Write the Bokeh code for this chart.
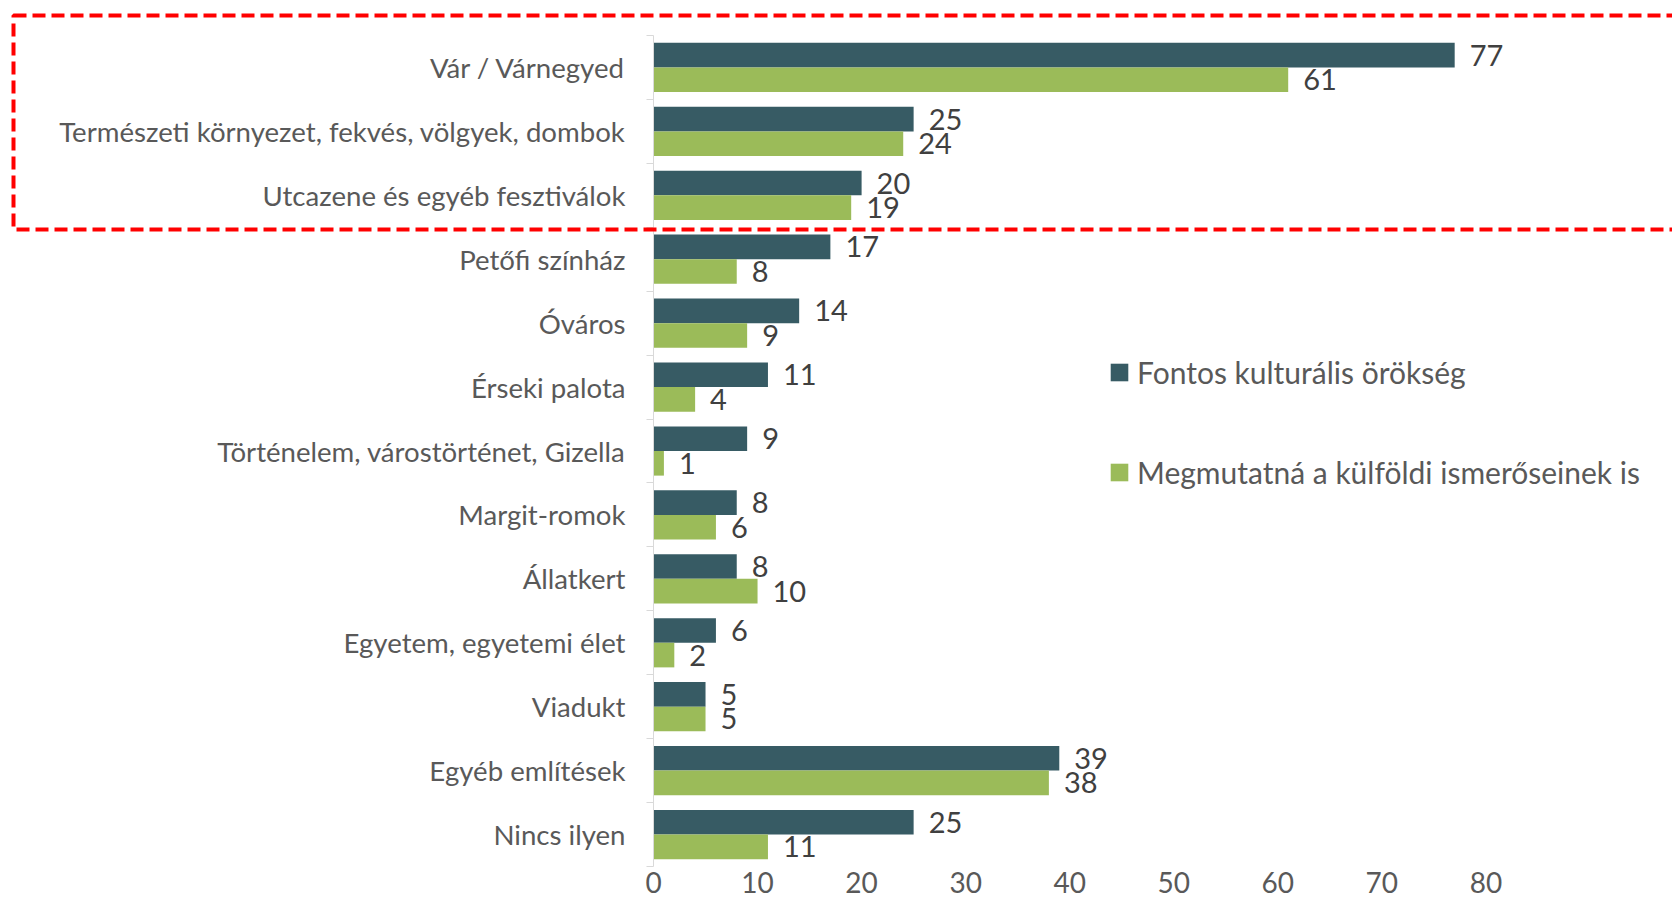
from bokeh.plotting import figure
from bokeh.models import (Range1d, FixedTicker, ColumnDataSource, BoxAnnotation, Legend,
                          LegendItem, LinearAxis)
from bokeh.transform import dodge
from bokeh.core.properties import value
from bokeh.embed import file_html
from bokeh.resources import INLINE

categories = [
    "Vár / Várnegyed",
    "Természeti környezet, fekvés, völgyek, dombok",
    "Utcazene és egyéb fesztiválok",
    "Petőfi színház",
    "Óváros",
    "Érseki palota",
    "Történelem, várostörténet, Gizella",
    "Margit-romok",
    "Állatkert",
    "Egyetem, egyetemi élet",
    "Viadukt",
    "Egyéb említések",
    "Nincs ilyen",
]
fontos = [77, 25, 20, 17, 14, 11, 9, 8, 8, 6, 5, 39, 25]
megmutatna = [61, 24, 19, 8, 9, 4, 1, 6, 10, 2, 5, 38, 11]
series_names = ["Fontos kulturális örökség", "Megmutatná a külföldi ismerőseinek is"]
x_ticks = [0, 10, 20, 30, 40, 50, 60, 70, 80]

DARK = "#375B64"
GREEN = "#9BBB59"
FONT = "Lato"

n = len(categories)
ys = [i + 0.5 for i in range(n)]
src = ColumnDataSource(dict(
    y=ys,
    fontos=fontos,
    megm=megmutatna,
    fontos_t=[str(v) for v in fontos],
    megm_t=[str(v) for v in megmutatna],
))

W, H = 1672, 904
X0_PX, PX_PER_X = 653, 10.405          # screen position of value 0, pixels per unit
Y0_PX, Y1_PX = 35, 866                 # screen span of the category block
py = (Y1_PX - Y0_PX) / n
x_range = Range1d(-X0_PX / PX_PER_X, (W - X0_PX) / PX_PER_X)
y_range = Range1d(n + (H - Y1_PX) / py, -Y0_PX / py)

p = figure(width=W, height=H, output_backend="svg", toolbar_location=None,
           x_range=x_range, y_range=y_range, x_axis_location=None, y_axis_location=None,
           min_border_left=0, min_border_right=0, min_border_top=0, min_border_bottom=0)
p.outline_line_color = None
p.grid.visible = False
p.background_fill_color = "white"

BH = 0.385
r1 = p.hbar(y=dodge("y", -BH / 2), right="fontos", left=0, height=BH, source=src,
            fill_color=DARK, line_color=None)
r2 = p.hbar(y=dodge("y", BH / 2), right="megm", left=0, height=BH, source=src,
            fill_color=GREEN, line_color=None)

p.text(x="fontos", y=dodge("y", -BH / 2), text="fontos_t", source=src, x_offset=15,
       text_baseline="middle", text_align="left", text_font=value(FONT),
       text_font_size="29px", text_color="#404040")
p.text(x="megm", y=dodge("y", BH / 2), text="megm_t", source=src, x_offset=15,
       text_baseline="middle", text_align="left", text_font=value(FONT),
       text_font_size="29px", text_color="#404040")

# y axis (category axis) fixed at value 0
ya = LinearAxis(fixed_location=0, bounds=(0, n))
ya.ticker = FixedTicker(ticks=ys, minor_ticks=list(range(n + 1)))
ya.major_label_overrides = {y: c for y, c in zip(ys, categories)}
ya.major_tick_line_color = None
ya.major_tick_out = 0
ya.major_tick_in = 0
ya.minor_tick_out = 7
ya.minor_tick_in = 0
ya.minor_tick_line_color = "#D9D9D9"
ya.axis_line_color = "#D9D9D9"
ya.major_label_standoff = 21
ya.major_label_text_font = FONT
ya.major_label_text_font_size = "27.6px"
ya.major_label_text_color = "#595959"
p.add_layout(ya, "left")

# x axis (values) fixed at the bottom of the category block
xa = LinearAxis(fixed_location=n)
xa.ticker = FixedTicker(ticks=x_ticks)
xa.axis_line_color = None
xa.major_tick_line_color = None
xa.minor_tick_line_color = None
xa.major_tick_out = 0
xa.major_tick_in = 0
xa.major_label_standoff = 5
xa.major_label_text_font = FONT
xa.major_label_text_font_size = "28px"
xa.major_label_text_color = "#595959"
p.add_layout(xa, "below")

legend = Legend(items=[LegendItem(label=series_names[0], renderers=[r1]),
                       LegendItem(label=series_names[1], renderers=[r2])],
                location=(1108, 414), orientation="vertical",
                glyph_width=22, glyph_height=22, label_standoff=7, spacing=64,
                padding=0, margin=0, border_line_color=None, background_fill_alpha=0,
                label_text_font=FONT, label_text_font_size="30px", label_text_color="#595959",
                label_height=34)
p.add_layout(legend, "center")

box = BoxAnnotation(left=13, right=1700, top=15, bottom=229,
                    left_units="canvas", right_units="canvas", top_units="canvas", bottom_units="canvas",
                    fill_alpha=0, line_color="#FF0000", line_alpha=1.0, line_width=4, line_dash="13 6")
p.add_layout(box)

open("out.html", "w").write(file_html(p, INLINE))
